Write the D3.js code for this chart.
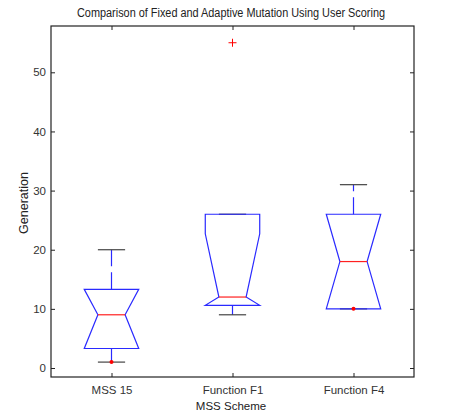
<!DOCTYPE html>
<html><head><meta charset="utf-8">
<script src="https://cdn.jsdelivr.net/npm/d3@7"></script>
<style>body{margin:0;background:#fff;} text{font-family:"Liberation Sans",Arial,sans-serif;}</style>
</head><body>
<svg id="c" width="458" height="414"></svg>
<script>
const categories = ["MSS 15", "Function F1", "Function F4"];
const q1 = [3.3, 10.6, 10];
const median = [9, 12, 18];
const q3 = [13.3, 26, 26];
const whiskerLow = [1, 9, 10];
const whiskerHigh = [20, 26, 31];
const notchLow = [3.3, 1.3, 10];
const notchHigh = [13.3, 22.7, 26];
const outliers = [[], [55], []];
const dots = [[1], [], [10]];
const yTicks = [0, 10, 20, 30, 40, 50];
const title = "Comparison of Fixed and Adaptive Mutation Using User Scoring";
const xLabel = "MSS Scheme";
const yLabel = "Generation";

const svg = d3.select("#c");
const L = 51, R = 414, T = 26, B = 377;
const x = d3.scaleLinear().domain([0.5, 3.5]).range([L, R]);
const y = d3.scaleLinear().domain([-1.52, 57.83]).range([B, T]);
const boxW = 0.45, notchW = 0.225, capW = 0.225;
const blue = "#2a2aff", dark = "#444";

svg.append("rect").attr("x", L).attr("y", T).attr("width", R - L).attr("height", B - T)
  .attr("fill", "none").attr("stroke", "#222").attr("stroke-width", 1.2);

const g = svg.append("g");
g.append("g").attr("transform", `translate(${L},0)`)
  .call(d3.axisLeft(y).tickValues(yTicks).tickSizeInner(-4).tickSizeOuter(0).tickPadding(5))
  .call(a => a.select(".domain").remove());
g.append("g").attr("transform", `translate(${R},0)`)
  .call(d3.axisRight(y).tickValues(yTicks).tickSizeInner(-4).tickSizeOuter(0).tickFormat(""))
  .call(a => a.select(".domain").remove());
g.append("g").attr("transform", `translate(0,${B})`)
  .call(d3.axisBottom(x).tickValues([1, 2, 3]).tickFormat((d, i) => categories[i]).tickSizeInner(-4).tickSizeOuter(0).tickPadding(9))
  .call(a => a.select(".domain").remove());
g.append("g").attr("transform", `translate(0,${T})`)
  .call(d3.axisTop(x).tickValues([1, 2, 3]).tickFormat("").tickSizeInner(-4).tickSizeOuter(0))
  .call(a => a.select(".domain").remove());
g.selectAll(".tick line").attr("stroke", "#222");
g.selectAll(".tick text").attr("fill", "#333").style("font-size", "11.5px")
  .style("font-family", "'Liberation Sans', Arial, sans-serif");

categories.forEach((c, i) => {
  const cx = i + 1;
  const lo = q1[i], hi = q3[i], m = median[i];
  const nl = Math.max(notchLow[i], lo), nh = Math.min(notchHigh[i], hi);
  const pts = [
    [cx - boxW / 2, hi], [cx - boxW / 2, nh], [cx - notchW / 2, m], [cx - boxW / 2, nl], [cx - boxW / 2, lo],
    [cx + boxW / 2, lo], [cx + boxW / 2, nl], [cx + notchW / 2, m], [cx + boxW / 2, nh], [cx + boxW / 2, hi]
  ];
  if (whiskerHigh[i] > hi) {
    svg.append("line").attr("x1", x(cx)).attr("x2", x(cx)).attr("y1", y(hi)).attr("y2", y(whiskerHigh[i]))
      .attr("stroke", blue).attr("stroke-width", 1.2).attr("stroke-dasharray", "17,6");
  }
  if (whiskerLow[i] < lo) {
    svg.append("line").attr("x1", x(cx)).attr("x2", x(cx)).attr("y1", y(lo)).attr("y2", y(whiskerLow[i]))
      .attr("stroke", blue).attr("stroke-width", 1.2).attr("stroke-dasharray", "17,6");
  }
  [whiskerLow[i], whiskerHigh[i]].forEach(v => {
    svg.append("line").attr("x1", x(cx - capW / 2)).attr("x2", x(cx + capW / 2)).attr("y1", y(v)).attr("y2", y(v))
      .attr("stroke", dark).attr("stroke-width", 1.2);
  });
  svg.append("path").attr("d", d3.line().x(d => x(d[0])).y(d => y(d[1]))(pts) + "Z")
    .attr("fill", "none").attr("stroke", blue).attr("stroke-width", 1.2);
  svg.append("line").attr("x1", x(cx - notchW / 2)).attr("x2", x(cx + notchW / 2)).attr("y1", y(m)).attr("y2", y(m))
    .attr("stroke", "#ff2020").attr("stroke-width", 1.2);
  outliers[i].forEach(v => {
    svg.append("path").attr("d", `M${x(cx) - 4},${y(v)}H${x(cx) + 4}M${x(cx)},${y(v) - 4}V${y(v) + 4}`)
      .attr("stroke", "#ff0000").attr("stroke-width", 1);
  });
  dots[i].forEach(v => {
    svg.append("circle").attr("cx", x(cx)).attr("cy", y(v)).attr("r", 2).attr("fill", "#ff0000");
  });
});

svg.append("text").attr("x", 231).attr("y", 17).attr("text-anchor", "middle")
  .attr("textLength", 308).attr("lengthAdjust", "spacingAndGlyphs")
  .style("font-size", "12.5px").attr("fill", "#222").text(title);
svg.append("text").attr("x", 231).attr("y", 410).attr("text-anchor", "middle")
  .style("font-size", "11.5px").attr("fill", "#222").text(xLabel);
svg.append("text").attr("transform", "translate(28,203) rotate(-90)").attr("text-anchor", "middle")
  .style("font-size", "12.5px").attr("fill", "#222").text(yLabel);
</script>
</body></html>
